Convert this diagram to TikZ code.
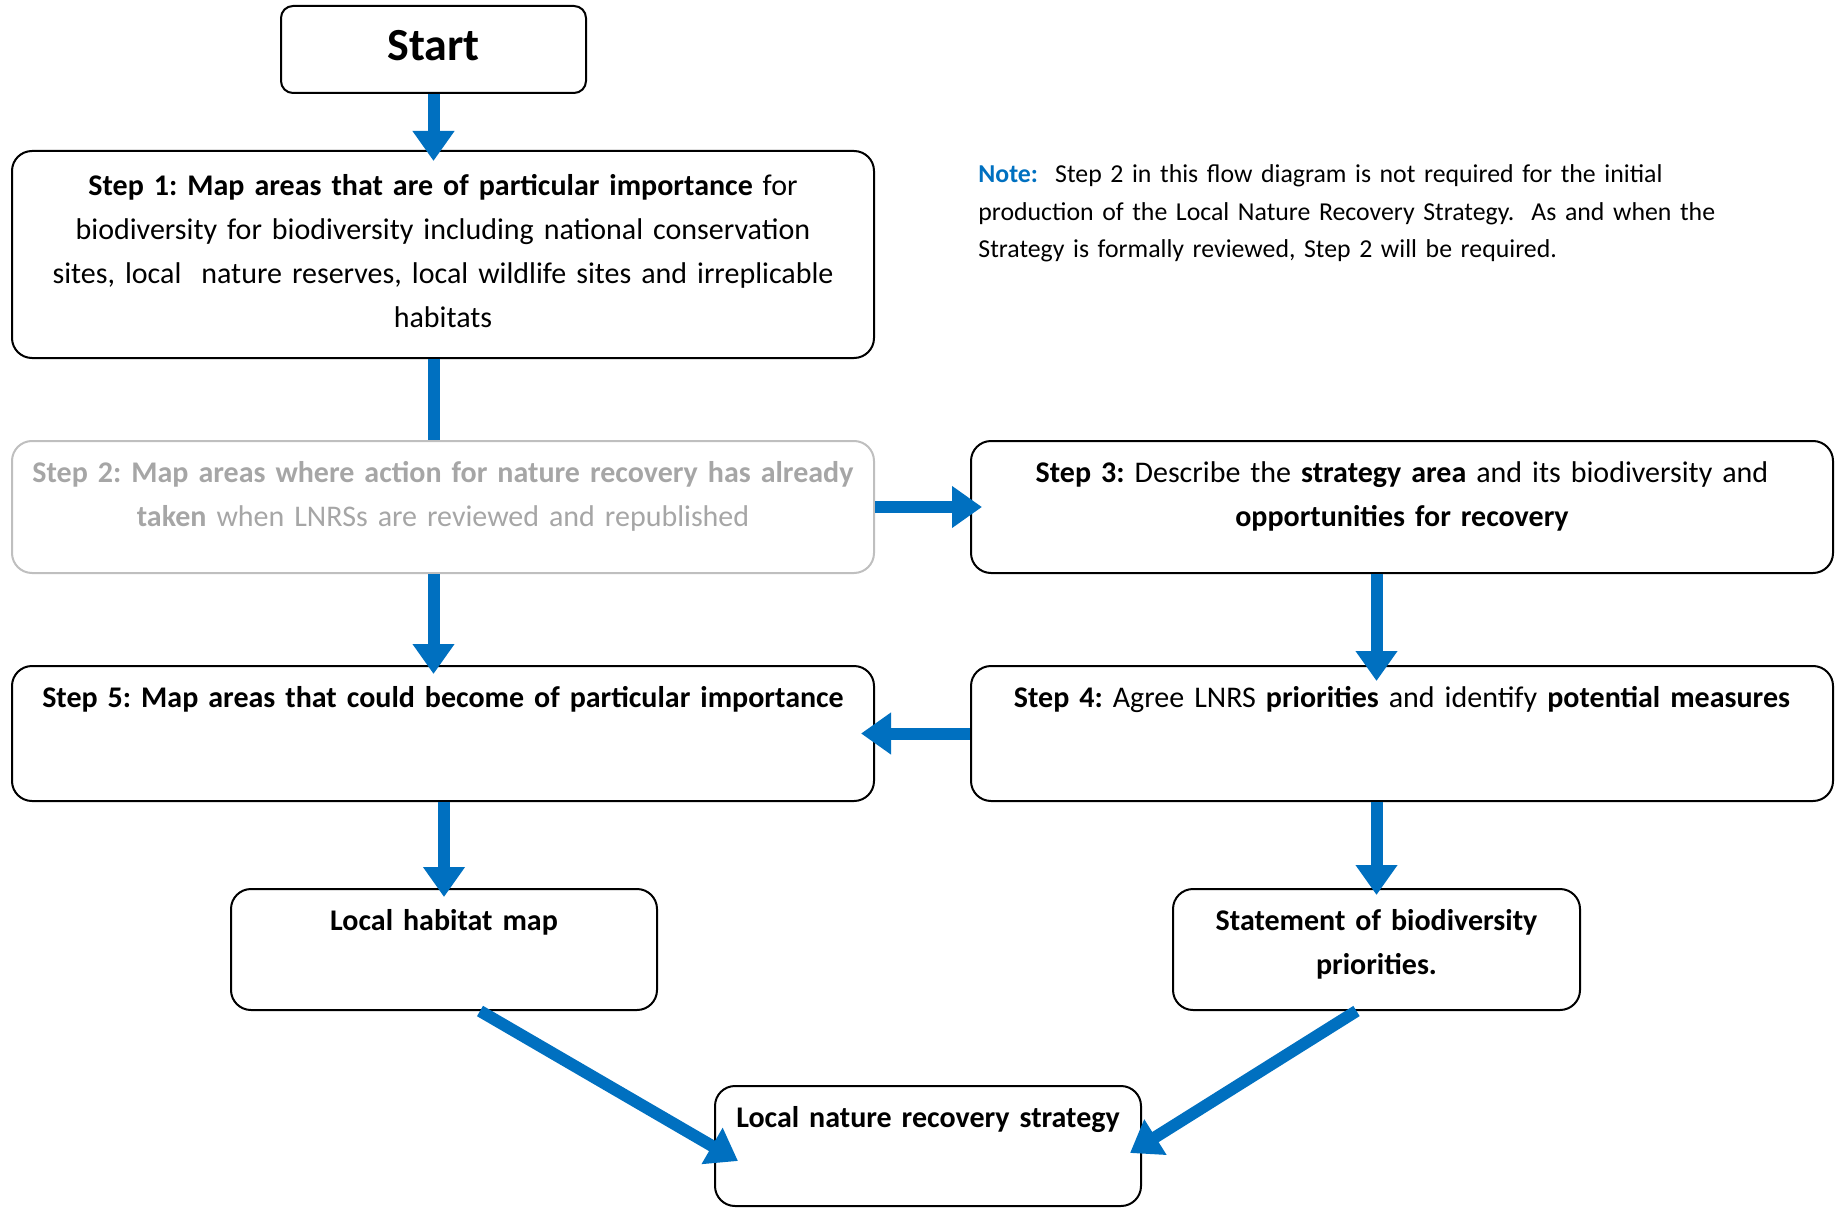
\documentclass[tikz,border=0pt]{standalone}
\usepackage{fontspec}
\setmainfont{Carlito}
\frenchspacing
\usetikzlibrary{arrows.meta,positioning}
\definecolor{lnrsblue}{RGB}{0,112,192}
\definecolor{fadetext}{RGB}{166,166,166}
\definecolor{fadeline}{RGB}{191,191,191}

\begin{document}
\begin{tikzpicture}[x=0.5pt, y=-0.5pt,
  stepbox/.style={draw, rounded corners=10pt, line width=1pt, align=center, inner sep=0pt, font=\fontsize{15}{22}\selectfont},
  wide/.style={text width=431pt, text height=20.5pt},
  small/.style={text height=20.5pt, text depth=40pt},
  flow/.style={draw=lnrsblue, line width=6pt, -{Triangle[width=20pt,length=15pt]}}]
\useasboundingbox (0,0) rectangle (1839,1208);
\node[stepbox, rounded corners=6pt, text width=152.5pt, text height=27.5pt, text depth=16pt, font=\fontsize{23}{26}\selectfont\bfseries](start) at (433.5,49.5){Start};
\node[stepbox, wide, text height=22.5pt, text depth=81pt](step1) at (443,254.5){\textbf{Step 1: Map areas that are of particular importance} for\\ biodiversity for biodiversity including national conservation\\ sites, local\ \ nature reserves, local wildlife sites and irreplicable\\ habitats};
\node[stepbox, wide, text depth=45.5pt, draw=fadeline, text=fadetext](step2) at (443,507){\textbf{Step 2: Map areas where action for nature recovery has already}\\ \textbf{taken} when LNRSs are reviewed and republished};
\node[stepbox, wide, text depth=45.5pt](step3) at (1402,507){\textbf{Step 3:} Describe the \textbf{strategy area} and its biodiversity and\\ \textbf{opportunities for recovery}};
\node[stepbox, wide, text depth=47pt](step5) at (443,733.5){\textbf{Step 5: Map areas that could become of particular importance}};
\node[stepbox, wide, text depth=47pt](step4) at (1402,733.5){\textbf{Step 4:} Agree LNRS \textbf{priorities} and identify \textbf{potential measures}};
\node[stepbox, small, text width=213pt](habitat) at (444,949.5){\textbf{Local habitat map}};
\node[stepbox, small, text width=203.5pt](statement) at (1376.5,949.5){\textbf{Statement of biodiversity}\\ \textbf{priorities.}};
\node[stepbox, small, text width=213pt, text depth=39.5pt](lnrs) at (928,1146){\textbf{Local nature recovery strategy}};
%note
\node[anchor=base west, align=left, inner sep=0pt, text width=420pt, font=\fontsize{12.9}{18.75}\selectfont](note) at (978,183){\textcolor{lnrsblue}{\textbf{Note:}}\ \ Step 2 in this flow diagram is not required for the initial\\ production of the Local Nature Recovery Strategy.\ \ As and when the\\ Strategy is formally reviewed, Step 2 will be required.};
%arrows
\path[flow, shorten >=-5.5pt](start)--(start |- step1.north);
\path[draw=lnrsblue, line width=6pt](step1.south -| start)--(step2.north -| start);
\path[flow, shorten >=-4.5pt](step2.south -| start)--(step5.north -| start);
\path[flow, shorten >=-6pt](step2)--(step3);
\path[flow, shorten >=-8pt](step3.south -| statement)--(step4.north -| statement);
\path[flow, shorten >=-7pt](step4)--(step5);
\path[flow, shorten >=-4.5pt](step5.south -| habitat)--(habitat);
\path[flow, shorten >=-3.5pt](step4.south -| statement)--(statement);
\path[flow]([xshift=18pt]habitat.south)--([xshift=12pt, yshift=-7.5pt]lnrs.west);
\path[flow]([xshift=-10pt]statement.south)--([xshift=-6pt, yshift=-3.5pt]lnrs.east);
\end{tikzpicture}
\end{document}
